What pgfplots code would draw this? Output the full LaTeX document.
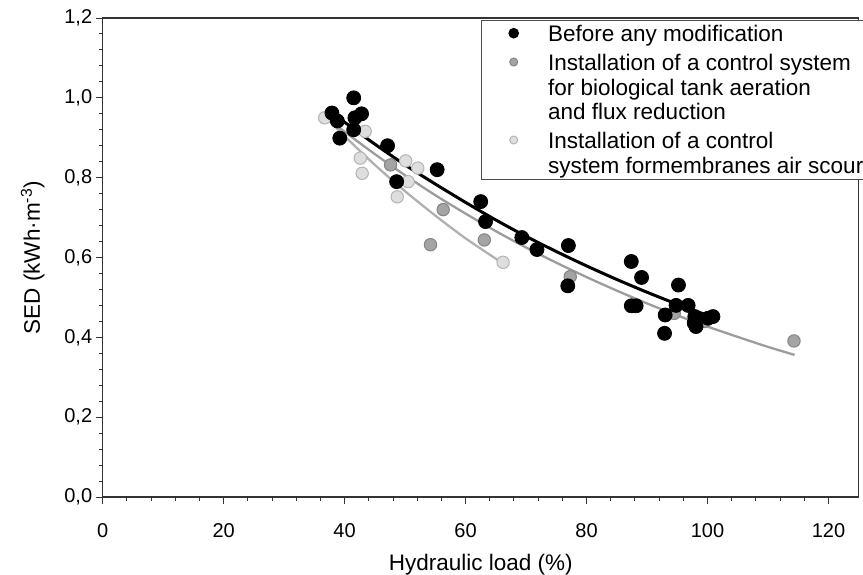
\documentclass[border=0pt]{standalone}
\usepackage{fontspec}
\setmainfont{Liberation Sans}
\usepackage{pgfplots}
\pgfplotsset{compat=1.18}
\definecolor{dgfill}{HTML}{A4A4A4}
\definecolor{dgdraw}{HTML}{858585}
\definecolor{lgfill}{HTML}{DEDEDE}
\definecolor{lgdraw}{HTML}{B4B4B4}
\definecolor{dgline}{HTML}{9C9C9C}
\definecolor{lgline}{HTML}{B0B0B0}
\pgfplotsset{mylegimg/.style={legend image code/.code={\path (-16pt,0pt) (11pt,0pt); \draw[##1] plot coordinates {(0pt,-5.6pt)};}}}
\begin{document}
\begin{tikzpicture}
\begin{axis}[
  scale only axis, width=378pt, height=239.5pt,
  xmin=0, xmax=125, ymin=0, ymax=1.2,
  xtick={0,20,40,60,80,100,120},
  ytick={0,0.2,0.4,0.6,0.8,1.0,1.2},
  minor x tick num=4, minor y tick num=4,
  tick align=outside, xtick pos=left, ytick pos=left,
  major tick length=3.25pt, minor tick length=2pt,
  axis line style={black!80, line width=0.6pt},
  every tick/.style={black!80, line width=0.5pt},
  tick label style={font=\fontsize{10}{11}\selectfont},
  /pgf/number format/assume math mode=true,
  y tick label style={/pgf/number format/.cd, use comma, fixed, fixed zerofill, precision=1, /tikz/.cd, xshift=1.5pt},
  xticklabel style={yshift=-6.3pt},
  xlabel={Hydraulic load (\%)},
  xlabel style={at={(axis description cs:0.5,-0.153)}, anchor=base, font=\fontsize{11.25}{13}\selectfont},
  ylabel={SED (kWh·m\textsuperscript{-3})},
  ylabel style={at={(axis description cs:-0.0926,0.5)}, anchor=center, font=\fontsize{11.25}{13}\selectfont},
  legend style={at={(axis cs:62.5,1.195)}, anchor=north west, draw=black!70, line width=0.5pt,
    inner xsep=0pt, inner ysep=0.5pt, font=\fontsize{11.25}{12.3}\selectfont,
    nodes={align=left, inner sep=1pt}, row sep=1.8pt, column sep=5pt,
    cells={anchor=north west}},
]
% Light gray series: control system for membranes air scour
\addplot[only marks, mark=*, mark size=3.1pt, mark options={fill=lgfill, draw=lgdraw, line width=0.5pt}, forget plot] coordinates {
(36.7,0.950) (43.4,0.916) (42.6,0.849) (42.9,0.811) (50.1,0.842)
(52.1,0.824) (50.5,0.790) (48.7,0.752) (66.2,0.588)
};
% Dark gray series: control system for biological tank aeration
\addplot[only marks, mark=*, mark size=3.1pt, mark options={fill=dgfill, draw=dgdraw, line width=0.5pt}, forget plot] coordinates {
(47.6,0.832) (56.3,0.720) (54.2,0.632) (63.1,0.644) (77.3,0.552)
(94.5,0.460) (99.5,0.440) (114.3,0.391)
};
% Black series: before any modification
\addplot[only marks, mark=*, mark size=3.5pt, mark options={fill=black, draw=black}, forget plot] coordinates {
(41.5,1.000) (37.9,0.962) (38.8,0.942) (41.7,0.950) (42.8,0.960)
(41.5,0.920) (39.2,0.899) (47.1,0.880) (55.3,0.820) (48.6,0.790)
(62.5,0.740) (63.3,0.690) (69.3,0.650) (71.8,0.620) (77.0,0.630)
(76.9,0.529) (87.4,0.590) (89.1,0.550) (87.4,0.479) (88.2,0.479)
(95.2,0.531) (93.0,0.456) (92.9,0.410) (94.8,0.480) (96.8,0.480)
(97.9,0.452) (98.1,0.427) (100.1,0.448) (100.9,0.452) (97.8,0.436)
};
% Fitted curves
\addplot[lgline, line width=1.15pt, smooth, forget plot] coordinates {
(37,0.950) (40,0.904) (45,0.832) (50,0.766) (55,0.705) (60,0.648) (66,0.587)
};
\addplot[dgline, line width=1.15pt, smooth, forget plot] coordinates {
(38,0.938) (40,0.915) (45,0.859) (50,0.806) (55,0.756) (60,0.710) (65,0.666)
(70,0.625) (75,0.587) (80,0.551) (85,0.517) (90,0.485) (95,0.455) (100,0.427)
(105,0.401) (110,0.376) (114.4,0.356)
};
\addplot[black, line width=1.5pt, smooth, forget plot] coordinates {
(38,0.962) (40,0.939) (45,0.884) (50,0.832) (55,0.784) (60,0.738) (65,0.694)
(70,0.653) (75,0.615) (80,0.579) (85,0.545) (90,0.513) (95,0.483) (100,0.455)
};
% Legend
\addlegendimage{only marks, mark=*, mark size=2.4pt, mark options={fill=black, draw=black}, mylegimg}
\addlegendentry{\strut Before any modification\strut}
\addlegendimage{only marks, mark=*, mark size=2pt, mark options={fill=dgfill, draw=dgdraw}, mylegimg}
\addlegendentry{\strut Installation of a control system\\for biological tank aeration\\and flux reduction\strut}
\addlegendimage{only marks, mark=*, mark size=2pt, mark options={fill=lgfill, draw=lgdraw}, mylegimg}
\addlegendentry{\strut Installation of a control\\system formembranes air scour\strut}
\end{axis}
\pgfresetboundingbox
\path[use as bounding box] (-51.35pt,-38.5pt) rectangle (380.15pt,248.5pt);
\end{tikzpicture}
\end{document}
